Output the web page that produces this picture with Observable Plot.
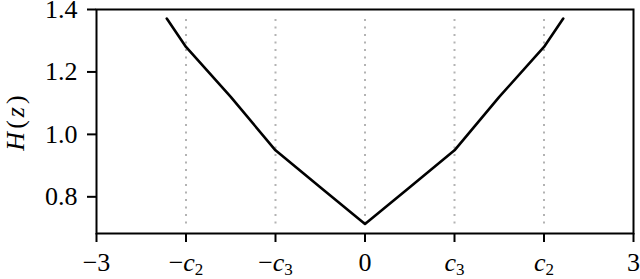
<!DOCTYPE html>
<html><head><meta charset="utf-8">
<script src="https://cdn.jsdelivr.net/npm/d3@7"></script>
<script src="https://cdn.jsdelivr.net/npm/@observablehq/plot@0.6"></script>
<style>body{margin:0;background:#fff} svg{display:block}</style>
</head><body><div id="chart"></div>
<script>
const zValues = [-2.215, -2, -1.5, -1, -0.5, 0, 0.5, 1, 1.5, 2, 2.215];
const hValues = [1.371, 1.280, 1.12, 0.949, 0.831, 0.713, 0.831, 0.949, 1.12, 1.280, 1.371];
const knotPositions = [-2, -1, 0, 1, 2];
const xTickValues = [-3, -2, -1, 0, 1, 2, 3];
const xTickLabels = ["−3", "−c2", "−c3", "0", "c3", "c2", "3"];
const yTickValues = [0.8, 1.0, 1.2, 1.4];
const yTickLabels = ["0.8", "1.0", "1.2", "1.4"];
const yLabel = "H(z)";

const curve = zValues.map((z, i) => ({z, h: hValues[i]}));
const hMin = d3.min(hValues), hMax = d3.max(hValues);
const knots = knotPositions.map(z => ({z, lo: hMin, hi: hMax}));

const FONT = "'Liberation Serif', 'DejaVu Serif', serif";

const chart = Plot.plot({
  width: 640, height: 279,
  marginLeft: 96, marginRight: 7, marginTop: 9, marginBottom: 46,
  style: {fontFamily: FONT, fontSize: "26px", background: "#fff", color: "#000"},
  x: {domain: [-3, 3]},
  y: {domain: [0.6825, 1.4]},
  marks: [
    Plot.ruleX(knots, {x: "z", y1: "lo", y2: "hi", stroke: "#b3b3b3", strokeWidth: 2, strokeDasharray: "2,5.5"}),
    Plot.line(curve, {x: "z", y: "h", stroke: "#000", strokeWidth: 2.6}),
    Plot.frame({stroke: "#000", strokeWidth: 2}),
    Plot.axisX({ticks: xTickValues, tickFormat: d => xTickLabels[xTickValues.indexOf(d)], tickSize: 9, tickPadding: 10, strokeWidth: 2, label: null}),
    Plot.axisY({ticks: yTickValues, tickFormat: d => yTickLabels[yTickValues.findIndex(v => Math.abs(v - d) < 1e-9)], tickSize: 9, tickPadding: 10, strokeWidth: 2,
      label: yLabel, labelAnchor: "center", labelOffset: 91, labelArrow: "none"})
  ]
});
document.getElementById("chart").append(chart);

const svg = d3.select(chart);
svg.selectAll("text").style("font-family", FONT).style("font-size", "26px").style("font-variant", "normal");
svg.selectAll('g[aria-label="x-axis tick label"] text').each(function() {
  const t = this.textContent;
  const m = t.match(/^(−?)c(\d)$/);
  if (!m) return;
  const el = d3.select(this);
  el.text(null);
  if (m[1]) el.append("tspan").text("−");
  el.append("tspan").attr("font-style", "italic").text("c");
  el.append("tspan").style("font-size", "17px").attr("dy", "4").text(m[2]);
});
svg.selectAll('g[aria-label="y-axis label"] text').each(function() {
  const el = d3.select(this);
  el.text(null);
  el.style("letter-spacing", "3px");
  el.append("tspan").attr("font-style", "italic").text("H");
  el.append("tspan").text("(");
  el.append("tspan").attr("font-style", "italic").text("z");
  el.append("tspan").text(")");
});
</script>
</body></html>
